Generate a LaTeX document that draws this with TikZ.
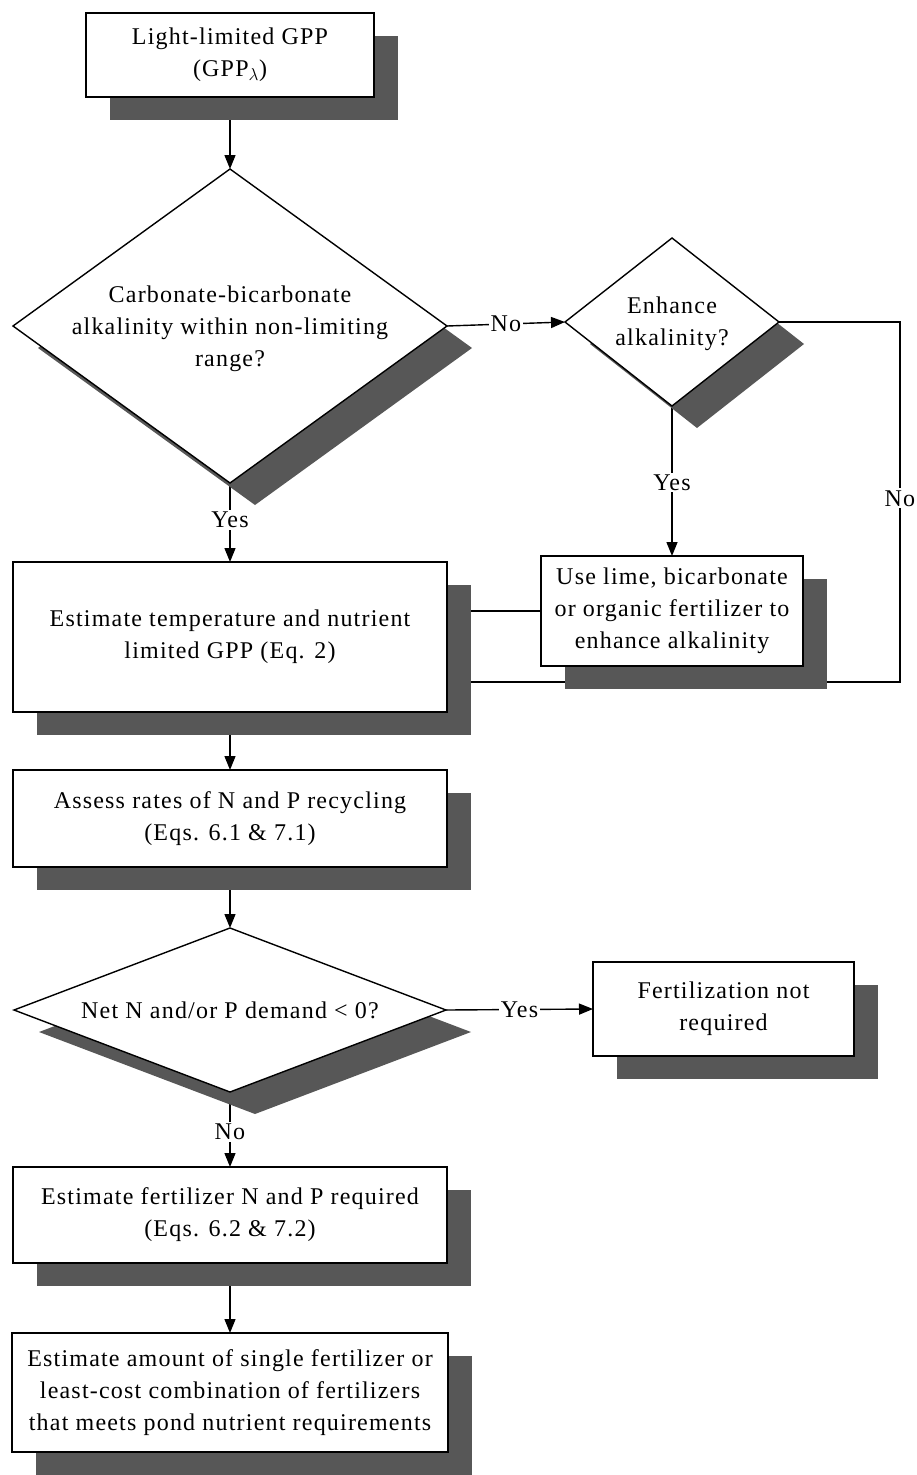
\documentclass[tikz,border=0pt]{standalone}
\usepackage{fontspec}
\setmainfont{Liberation Serif}[LetterSpace=5]
\usetikzlibrary{shapes.geometric,arrows.meta}
\pgfdeclarelayer{lines}
\pgfdeclarelayer{shadows}
\pgfsetlayers{lines,shadows,main}
\begin{document}
\begin{tikzpicture}[x=1pt,y=-1pt,
  box/.style={draw, fill=white, line width=1.4pt, inner sep=0pt, outer sep=0pt, align=center, font=\fontsize{24}{32}\selectfont},
  dia/.style={diamond, draw, fill=white, line width=1.4pt, inner sep=0pt, outer sep=0pt},
  dtext/.style={align=center, font=\fontsize{24}{32}\selectfont, inner sep=0pt},
  arr/.style={line width=1.4pt, -{Triangle[length=14pt,width=11pt]}},
  con/.style={line width=1.4pt},
  lbl/.style={fill=white, inner sep=2pt, font=\fontsize{24}{28}\selectfont},
  shade/.style={fill=black!66}]
\useasboundingbox (0,0) rectangle (916,1475);

% main column
\node[box, minimum width=288pt, minimum height=84pt] (b1) at (230,55) {Light-limited GPP\\(GPP$_{\lambda}$)};
\node[dia, minimum width=434pt, minimum height=314pt] (d1) at (230,326) {};
\node[dtext] (d1t) at (230,329) {Carbonate-bicarbonate\\alkalinity within non-limiting\\range?};
\node[box, minimum width=434pt, minimum height=150pt] (b2) at (230,637) {Estimate temperature and nutrient\\limited GPP (Eq. 2)};
\node[box, minimum width=434pt, minimum height=97pt] (b4) at (230,818.5) {Assess rates of N and P recycling\\(Eqs. 6.1 \& 7.1)};
\node[dia, minimum width=432pt, minimum height=164pt] (d3) at (230,1010) {};
\node[dtext] (d3t) at (230,1010) {Net N and/or P demand < 0?};
\node[box, minimum width=434pt, minimum height=96pt] (b6) at (230,1215) {Estimate fertilizer N and P required\\(Eqs. 6.2 \& 7.2)};
\node[box, minimum width=436pt, minimum height=119pt] (b7) at (230,1392.5) {Estimate amount of single fertilizer or\\least-cost combination of fertilizers\\that meets pond nutrient requirements};

% right column
\node[dia, minimum width=214pt, minimum height=168pt] (d2) at (672,322) {};
\node[dtext] (d2t) at (672,324) {Enhance\\alkalinity?};
\node[box, minimum width=262pt, minimum height=110pt] (b3) at (672,611) {Use lime, bicarbonate\\or organic fertilizer to\\enhance alkalinity};
\node[box, minimum width=261pt, minimum height=94pt] (b5) at (723.5,1009) {Fertilization not\\required};

\coordinate (loopR) at (900,682);

\begin{pgfonlayer}{shadows}
  \foreach \n in {b1,b2,b3,b4,b5,b6,b7}
    \fill[shade] ([shift={(24,23)}]\n.north west) rectangle ([shift={(24,23)}]\n.south east);
  \foreach \n in {d1,d2,d3}
    \fill[shade] ([shift={(25,22)}]\n.north) -- ([shift={(25,22)}]\n.east) -- ([shift={(25,22)}]\n.south) -- ([shift={(25,22)}]\n.west) -- cycle;
\end{pgfonlayer}

\begin{pgfonlayer}{lines}
  \draw[arr] (b1.south) -- (d1.north);
  \draw[arr] (d1.east) -- node[lbl, pos=0.5] (lno1) {No} (d2.west);
  \draw[arr] (d1.south) -- node[lbl, pos=0.47] (lyes1) {Yes} (b2.north);
  \draw[arr] (d2.south) -- node[lbl, pos=0.51] (lyes2) {Yes} (b3.north);
  \draw[con] (b3.west) -- (b3.west -| b2.east);
  \draw[con] (d2.east) -| node[lbl, pos=0.745] (lno2) {No} (loopR) -- (b2.east |- loopR);
  \draw[arr] (b2.south) -- (b4.north);
  \draw[arr] (b4.south) -- (d3.north);
  \draw[arr] (d3.east) -- node[lbl, pos=0.5] (lyes3) {Yes} (b5.west);
  \draw[arr] (d3.south) -- node[lbl, pos=0.53] (lno3) {No} (b6.north);
  \draw[arr] (b6.south) -- (b7.north);
\end{pgfonlayer}
\end{tikzpicture}
\end{document}
